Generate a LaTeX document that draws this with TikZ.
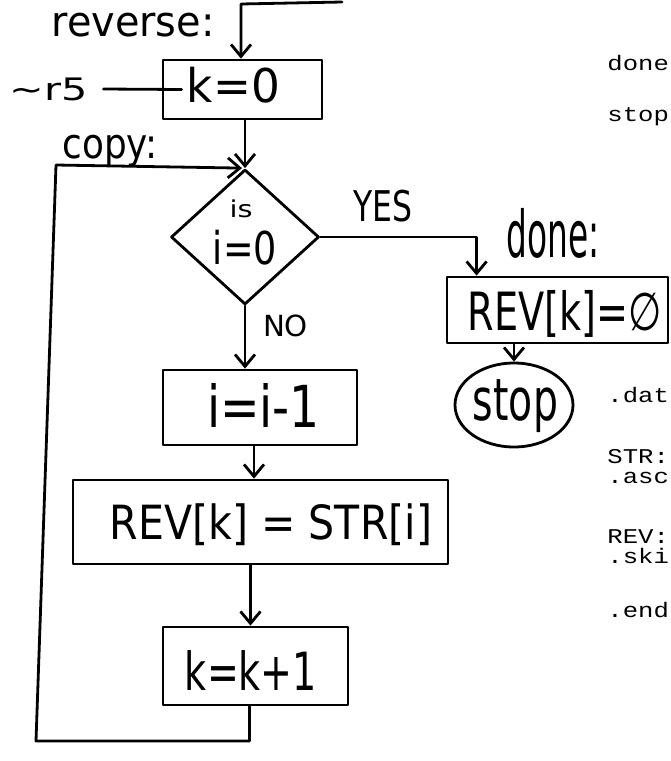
\documentclass[tikz,border=0pt]{standalone}
\usepackage{fontspec}
\usepackage{graphicx}
\usetikzlibrary{shapes.geometric,arrows.meta,calc}
\newfontfamily\handfont{DejaVu Sans}
\newfontfamily\courfont[FakeStretch=1.22]{Liberation Mono}
\newcommand{\hw}[3]{\resizebox*{#1pt}{#2pt}{\handfont #3}}
\begin{document}
\begin{tikzpicture}[x=1pt,y=-1pt,line width=2.8pt,line join=round,line cap=round,
  >={Straight Barb[length=12pt,width=20pt]},
  hbox/.style={draw,rectangle,inner sep=0pt},
  lbl/.style={inner sep=0pt},
  code/.style={anchor=base west,inner sep=0pt,
    font=\courfont\fontsize{21}{21}\selectfont}]
\fill[white] (0,0) rectangle (671,761);
\useasboundingbox (0,0) rectangle (671,761);

% boxes
\node[hbox,minimum width=159pt,minimum height=59pt] (k0) at (242.5,89.5) {};
\node[draw,diamond,minimum width=148pt,minimum height=135pt,inner sep=0pt] (dia) at (245,237) {};
\node[hbox,minimum width=194pt,minimum height=75pt] (im1) at (260,407.5) {};
\node[hbox,minimum width=375pt,minimum height=84pt] (rev) at (260.5,522) {};
\node[hbox,minimum width=185pt,minimum height=78pt] (kp1) at (255.5,666) {};
\node[hbox,minimum width=221pt,minimum height=66pt] (revz) at (557.5,310) {};
\node[draw,ellipse,minimum width=118pt,minimum height=84pt,inner sep=0pt] (stop) at (514,405) {};

% handwritten labels
\node[lbl] (lrev) at (133,25) {\hw{163}{24}{reverse:}};
\node[lbl] (r5) at (49,89) {\hw{78}{23}{\textasciitilde r5}};
\node[lbl] (lcopy) at (110,151) {\hw{95}{32}{copy:}};
\node[lbl] (tk0) at (233.5,85) {\hw{93}{36}{k=0}};
\node[lbl] (tis) at (241,209) {\hw{23}{18}{is}};
\node[lbl] (ti0) at (245,247.5) {\hw{64}{35}{i=0}};
\node[lbl] (lno) at (285.5,326) {\hw{45}{22}{NO}};
\node[lbl] (tim1) at (263.5,405) {\hw{113}{44}{i=i-1}};
\node[lbl] (trev) at (271,525) {\hw{322}{42}{REV[k] = STR[i]}};
\node[lbl] (tkp1) at (251,670) {\hw{132}{40}{k=k+1}};
\node[lbl] (lyes) at (382.5,206) {\hw{59}{32}{YES}};
\node[lbl] (ldone) at (553.5,233.5) {\hw{93}{50}{done:}};
\node[lbl] (trevz) at (565,313.5) {\hw{194}{47}{REV[k]=∅}};
\node[lbl] (tstop) at (515.5,406.5) {\hw{85}{53}{stop}};

% code listing (clipped at the right edge)
\node[code] (c1) at (606,70) {done};
\node[code] (c2) at (606,121) {stop};
\node[code] (c3) at (606,402) {.dat};
\node[code] (c4) at (606,463) {STR:};
\node[code] (c5) at (606,483) {.asc};
\node[code] (c6) at (606,543) {REV:};
\node[code] (c7) at (606,563) {.ski};
\node[code] (c8) at (606,617) {.end};

% connectors
\coordinate (topR) at (342,2);
\coordinate (topL) at (241,4);
\draw[->] (topR) -- (topL) -- (topL |- k0.north);
\draw ([xshift=14pt]r5.east) -- ([xshift=20pt]k0.west);
\draw[->] (dia.north |- k0.south) -- (dia.north);
\coordinate (lb) at (36,741);
\coordinate (lt) at (56,165);
\draw[->] ([xshift=-6pt]kp1.south) -- ([xshift=-6pt]kp1.south |- lb) -- (lb) -- (lt) -- ([xshift=-3pt]dia.north);
\draw[->] (dia.east) -| ($(revz.north west)+(31,0)$);
\draw[->] (dia.south) -- (dia.south |- im1.north);
\draw[->] ([xshift=-6pt]im1.south) -- ([xshift=-6pt]im1.south |- rev.north);
\draw[->] ([xshift=-5pt]kp1.north |- rev.south) -- ([xshift=-5pt]kp1.north);
\draw[->] (stop.north |- revz.south) -- (stop.north);
\end{tikzpicture}
\end{document}
